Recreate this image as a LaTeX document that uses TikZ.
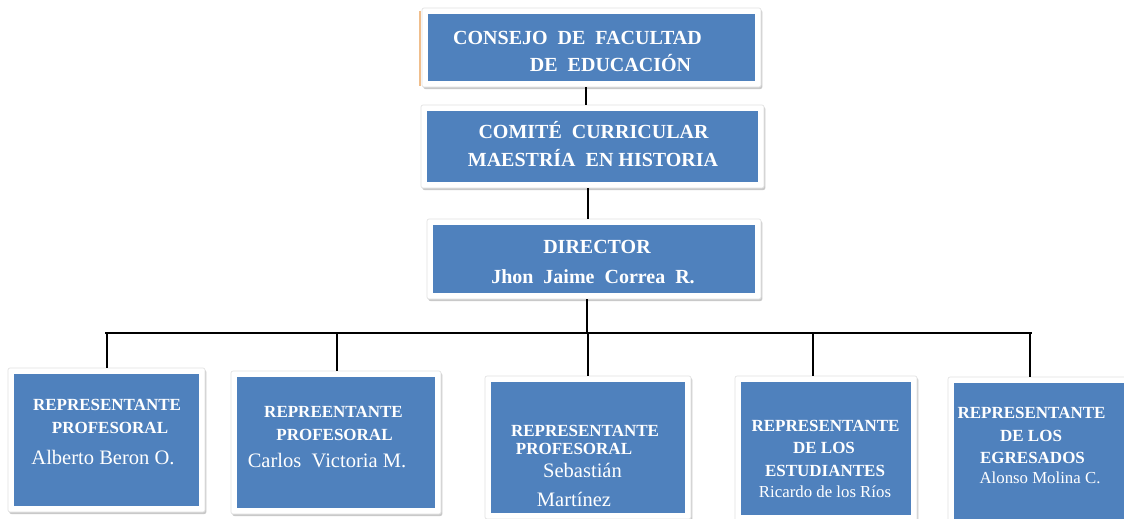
\documentclass[tikz,border=0pt]{standalone}
\usepackage{fontspec}
\setmainfont{Liberation Serif}
\usetikzlibrary{shadows}
\definecolor{boxblue}{RGB}{79,129,189}
\definecolor{edgeorange}{RGB}{240,190,140}
\tikzset{
  frame/.style={fill=white, draw=black!12, line width=0.5pt, rounded corners=1.5pt, inner sep=0pt, outer sep=0pt,
    drop shadow={shadow xshift=1pt, shadow yshift=-1.5pt, opacity=0.3, fill=black!70}},
  conn/.style={line width=2pt, black},
  thinconn/.style={line width=0.9pt, black},
  tb/.style={font=\fontsize{15}{18}\selectfont\bfseries, text=white, anchor=base, inner sep=0pt},
  bb/.style={font=\fontsize{12.75}{15}\selectfont\bfseries, text=white, anchor=base, inner sep=0pt},
  rr/.style={font=\fontsize{15.4}{18}\selectfont, text=white, anchor=base, inner sep=0pt},
  rs/.style={font=\fontsize{12.6}{15}\selectfont, text=white, anchor=base, inner sep=0pt},
}
\newcommand\orgbox[5]{%
  \node[frame, minimum width={(#4-#2)*0.75pt}, minimum height={(#5-#3)*0.75pt}] (#1) at ({(#2+#4)/2},{(#3+#5)/2}) {};
  \fill[boxblue] ([shift={(4.5pt,-4.5pt)}]#1.north west) rectangle ([shift={(-4.5pt,4.5pt)}]#1.south east);
}
\begin{document}
\begin{tikzpicture}[x=0.75pt,y=-0.75pt]
\useasboundingbox (0,0) rectangle (1124,518);
\clip (0,0) rectangle (1124,518);
% boxes
\orgbox{c1}{422}{8}{761}{87}
\orgbox{c2}{421}{105}{764}{188}
\orgbox{dir}{427}{219}{761}{299}
\orgbox{b1}{8}{368}{205}{512}
\orgbox{b2}{231}{371}{441}{514}
\orgbox{b3}{485}{376}{691}{519}
\orgbox{b4}{735}{376}{917}{521}
\orgbox{b5}{948}{377}{1135}{530}
\draw[edgeorange, line width=0.8pt] ([xshift=-1.5pt,yshift=-2pt]c1.north west) -- ([xshift=-1.5pt,yshift=1pt]c1.south west);
% connector coordinates
\coordinate (v1) at (586,0);
\coordinate (v2) at (588,0);
\coordinate (v3) at (587,0);
\coordinate (busL) at (105,333);
\coordinate (busR) at (1032,333);
\coordinate (d1) at (107,333);
\coordinate (d2) at (337,333);
\coordinate (d3) at (588,333);
\coordinate (d4) at (813,333);
\coordinate (d5) at (1030,333);
\draw[conn] (c1.south -| v1) -- (c2.north -| v1);
\draw[conn] (c2.south -| v2) -- (dir.north -| v2);
\draw[conn] (dir.south -| v3) -- (busL -| v3);
\draw[conn] (busL) -- (busR);
\draw[conn] (d1) -- (d1 |- b1.north);
\draw[conn] (d2) -- (d2 |- b2.north);
\draw[thinconn] (d3) -- (d3 |- b3.north);
\draw[conn] (d4) -- (d4 |- b4.north);
\draw[conn] (d5) -- (d5 |- b5.north);
% texts
\node[tb] (t1a) at (577.5,44) {CONSEJO\ \ DE\ \ FACULTAD};
\node[tb] (t1b) at (610.5,71) {DE\ \ EDUCACIÓN};
\node[tb] (t2a) at (593.5,138) {COMITÉ\ \ CURRICULAR};
\node[tb] (t2b) at (593,166) {MAESTRÍA\ \ EN HISTORIA};
\node[tb] (t3a) at (597,253) {DIRECTOR};
\node[tb] (t3b) at (593,283) {Jhon\ \ Jaime\ \ Correa\ \ R.};
\node[bb] (p1a) at (107,410) {REPRESENTANTE};
\node[bb] (p1b) at (110,433) {PROFESORAL};
\node[rr] (p1c) at (103,464) {Alberto Beron O.};
\node[bb] (p2a) at (333.5,417) {REPREENTANTE};
\node[bb] (p2b) at (334.5,440) {PROFESORAL};
\node[rr] (p2c) at (327,467) {Carlos\ \ Victoria M.};
\node[bb] (p3a) at (585,436) {REPRESENTANTE};
\node[bb] (p3b) at (574,454) {PROFESORAL};
\node[rr] (p3c) at (582.5,477) {Sebastián};
\node[rr] (p3d) at (574,506) {Martínez};
\node[bb] (p4a) at (825.5,431) {REPRESENTANTE};
\node[bb] (p4b) at (824,453) {DE LOS};
\node[bb] (p4c) at (825,476) {ESTUDIANTES};
\node[rs] (p4d) at (825,497) {Ricardo de los Ríos};
\node[bb] (p5a) at (1031.5,418) {REPRESENTANTE};
\node[bb] (p5b) at (1031,441) {DE LOS};
\node[bb] (p5c) at (1032.5,463) {EGRESADOS};
\node[rs] (p5d) at (1040,483) {Alonso Molina C.};
\end{tikzpicture}
\end{document}
